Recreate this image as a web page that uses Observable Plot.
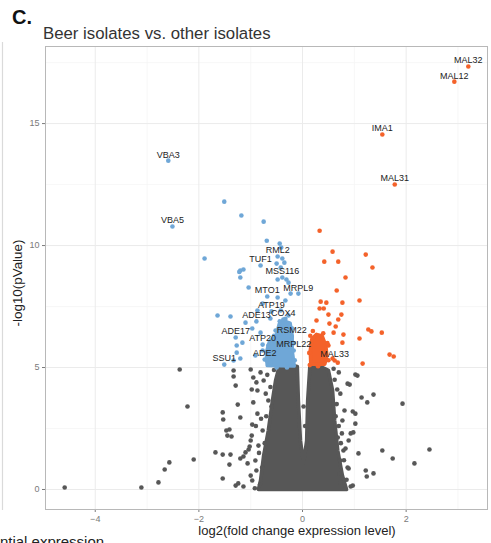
<!DOCTYPE html>
<html><head><meta charset="utf-8">
<script src="https://cdn.jsdelivr.net/npm/d3@7"></script>
<script src="https://cdn.jsdelivr.net/npm/@observablehq/plot@0.6"></script>
<style>
body{margin:0;background:#fff;}
#chart{width:491px;height:543px;overflow:hidden;}
</style></head><body>
<div id="chart"></div>
<script>
const xTicks = [-4, -2, 0, 2];
const yTicks = [0, 5, 10, 15];
const xMinor = [-3, -1, 1, 3];
const yMinor = [2.5, 7.5, 12.5, 17.5];

// dense non-significant core (outline)
const greyCore = [[-0.85,0],[-0.81,0.37],[-0.75,1.39],[-0.66,2.42],[-0.58,3.65],[-0.52,4.47],[-0.46,4.96],[-0.27,5.12],[-0.10,5.04],[-0.08,3.65],[-0.04,2.0],[0.02,1.1],[0.08,2.0],[0.10,3.65],[0.14,5.0],[0.31,5.08],[0.50,4.88],[0.58,4.06],[0.62,2.83],[0.68,1.6],[0.77,0.57],[0.85,0]];
const blueCore = [[-0.68,5.08],[-0.70,5.60],[-0.64,6.05],[-0.50,6.35],[-0.45,6.78],[-0.37,6.92],[-0.24,6.82],[-0.20,6.31],[-0.20,5.70],[-0.16,5.06]];
const redCore = [[0.16,5.14],[0.15,5.70],[0.18,6.17],[0.27,6.36],[0.38,6.29],[0.45,5.90],[0.47,5.49],[0.43,5.14]];

const greyPts = [[-4.59,0.08],[-3.11,0.08],[-2.78,0.29],[-2.66,0.82],[-2.57,1.11],[-2.10,1.23],[-2.37,4.92],[-2.22,3.40],
[-1.68,1.52],[-1.54,1.43],[-1.39,1.43],[-1.54,0.45],[-1.41,1.02],[-1.45,2.21],[-1.41,2.46],[-1.33,4.88],[-1.33,4.63],[-1.29,4.26],[-1.25,3.48],[-1.54,3.16],[-1.53,2.87],[-1.47,2.42],[-1.37,2.17],[-1.20,2.95],[-1.29,0.16],[-1.24,0.25],[-1.14,0.12],[-1.20,1.27],[-1.10,1.52],[-1.04,1.64],[-1.00,2.01],[-0.98,4.10],[-0.97,2.66],[-0.98,2.21],[-1.02,1.76],[-1.14,1.35],[-1.06,1.07],[-1.00,0.57],[-0.95,3.57],[-1.00,4.92],[-0.95,4.59],[-0.89,4.39],[-0.81,4.80],[-0.87,4.06],[-0.75,4.47],[-0.71,3.93],[-0.87,3.11],
[-0.66,3.65],[-0.70,3.0],[-0.77,2.42],[-0.85,1.80],[-0.91,1.19],[-0.89,0.78],[-0.97,0.37],[-0.92,0.05],[-0.80,2.9],[-0.62,4.2],[-0.55,4.9],[-0.90,2.6],[-0.84,1.5],[-0.78,0.9],[-0.68,4.7],[-0.60,3.4],[-0.73,1.9],[-0.82,0.2],
[0.93,0.12],[0.89,0.86],[1.08,1.48],[1.22,0.78],[1.24,0.53],[1.37,0.66],[1.54,1.60],[1.74,1.27],[2.16,1.07],[2.45,1.64],[0.83,1.68],[0.71,0.66],[0.73,0.29],[1.02,4.71],[0.91,4.30],[1.14,3.77],[1.37,3.89],[1.25,3.57],[1.93,3.52],[1.02,2.70],[0.98,2.34],[0.97,3.20],[1.02,3.11],[0.89,2.01],[0.87,4.34],[1.06,4.67],[0.93,2.30],[0.79,1.60],[0.87,0.90],[0.97,0.16],[0.73,3.93],[0.68,2.13],[0.81,3.24],[0.70,4.80],[0.77,2.83],[0.73,1.19],
[0.66,3.5],[0.70,2.6],[0.74,1.9],[0.80,1.2],[0.85,0.4],[0.62,4.5],[0.64,3.0],[0.60,4.95],[0.67,4.1],[0.76,2.3],[0.02,3.4],[0.05,2.6]];

const bluePts = [[-1.51,11.80],[-1.18,11.23],[-1.89,9.47],[-1.20,8.98],[-1.14,9.02],[-0.75,10.98],[-0.69,10.20],[-0.44,10.08],[-0.41,9.92],[-0.39,9.47],[-0.50,9.26],[-0.42,9.10],[-0.35,9.30],[-1.22,8.92],[-1.20,8.69],[-0.48,8.61],[-0.31,8.61],[-0.27,8.48],[-1.04,8.28],[-0.48,7.87],[-0.23,8.03],[-0.33,7.75],[-1.64,7.13],[-1.39,7.09],[-0.87,7.34],[-0.77,7.62],[-0.62,7.01],[-0.42,7.34],[-0.27,7.13],[-1.10,6.84],[-0.97,6.60],[-0.81,6.43],[-1.27,5.90],[-1.16,6.02],[-1.27,5.61],[-1.20,5.37],[-1.33,5.29],[-0.91,5.49],[-0.77,5.70],[-0.66,5.90],[-0.69,5.29],[-0.58,6.11],[-0.52,6.52],[-0.58,5.45],
[-0.62,5.2],[-0.64,5.7],[-0.55,6.3],[-0.44,6.9],[-0.33,7.0],[-0.20,6.6],[-0.17,6.0],[-0.15,5.3],[-0.50,5.0],[-0.30,5.0]];

const redPts = [[0.33,10.61],[0.58,9.75],[0.42,9.34],[0.69,9.34],[1.22,9.63],[0.83,8.69],[1.35,9.10],[0.66,8.16],[1.10,7.75],[0.35,7.70],[0.46,7.66],[0.77,7.66],[0.33,7.42],[0.41,7.42],[0.50,7.17],[0.75,7.17],[0.27,6.93],[0.69,6.97],[0.52,6.80],[0.64,6.68],[1.27,6.56],[1.33,6.48],[1.53,6.43],[0.60,6.43],[0.79,6.35],[1.10,6.19],[0.77,6.02],[0.50,5.90],[1.68,5.53],[1.76,5.45],[1.16,5.16],[0.68,5.20],[0.58,5.37],[0.45,5.5],
[0.15,6.3],[0.13,5.6],[0.20,6.5],[0.40,6.4],[0.48,6.0],[0.50,5.3],[0.14,5.1],[0.30,5.05]];

const blueGenes = [["VBA3",-2.59,13.48],["VBA5",-2.51,10.78],["RML2",-0.48,9.55],["TUF1",-0.81,9.18],["MSS116",-0.39,8.69],["MRPL9",-0.08,8.03],["MTO1",-0.68,7.91],["ATP19",-0.60,7.30],["ADE13",-0.89,6.89],["COX4",-0.37,6.97],["ADE17",-1.29,6.23],["ATP20",-0.77,5.94],["RSM22",-0.21,6.27],["MRPL22",-0.17,5.70],["ADE2",-0.73,5.33],["SSU1",-1.51,5.12]];
const redGenes = [["MAL32",3.20,17.34],["MAL12",2.93,16.72],["IMA1",1.54,14.55],["MAL31",1.78,12.50],["MAL33",0.62,5.29]];

const GREY = "#575757", BLUE = "#6fa7d7", RED = "#f4622a";
const FONT = '"Liberation Sans", Arial, Helvetica, sans-serif';

const core = (data, c) => Plot.line(data, {x: d => d[0], y: d => d[1], curve: "linear-closed", fill: c, stroke: c, strokeWidth: 3.6, strokeLinejoin: "round"});
const dots = (data, c) => Plot.dot(data, {x: d => d[0], y: d => d[1], r: 2.3, fill: c});
const genesDots = (data, c) => Plot.dot(data, {x: d => d[1], y: d => d[2], r: 2.3, fill: c});
const genesText = data => Plot.text(data, {x: d => d[1], y: d => d[2], text: d => d[0], dy: -6, fontSize: 9, fill: "#222"});

const svg = Plot.plot({
  width: 491, height: 543,
  marginLeft: 45, marginRight: 4, marginTop: 46, marginBottom: 34,
  style: {fontFamily: FONT, background: "white", overflow: "visible"},
  x: {domain: [-4.96, 3.57]},
  y: {domain: [-0.82, 18.16]},
  marks: [
    Plot.ruleX(xMinor, {stroke: "#f4f4f4", strokeWidth: 0.7}),
    Plot.ruleY(yMinor, {stroke: "#f4f4f4", strokeWidth: 0.7}),
    Plot.ruleX(xTicks, {stroke: "#ebebeb", strokeWidth: 1}),
    Plot.ruleY(yTicks, {stroke: "#ebebeb", strokeWidth: 1}),
    Plot.axisX({ticks: xTicks, tickSize: 3, tickPadding: 3, fontSize: 9, color: "#7a7a7a", label: null}),
    Plot.axisY({ticks: yTicks, tickSize: 3, tickPadding: 3, fontSize: 9, color: "#7a7a7a", label: null}),
    core(greyCore, GREY),
    dots(greyPts, GREY),
    core(blueCore, BLUE),
    dots(bluePts, BLUE),
    genesDots(blueGenes, BLUE),
    core(redCore, RED),
    dots(redPts, RED),
    genesDots(redGenes, RED),
    genesText(blueGenes),
    genesText(redGenes),
    Plot.frame({stroke: "#b8b8b8"})
  ]
});
document.getElementById("chart").appendChild(svg);

const s = d3.select(svg);
s.append("line").attr("x1", 2.5).attr("x2", 2.5).attr("y1", 42).attr("y2", 510).attr("stroke", "#dadada").attr("stroke-width", 1.2);
s.append("text").text("C.").attr("x", 12).attr("y", 24).attr("text-anchor", "start").attr("font-size", 20).attr("font-weight", "bold").attr("fill", "#111").attr("font-family", FONT);
s.append("text").text("Beer isolates vs. other isolates").attr("x", 43).attr("y", 39).attr("text-anchor", "start").attr("font-size", 16.8).attr("fill", "#333").attr("font-family", FONT);
s.append("text").text("log2(fold change expression level)").attr("x", 297).attr("y", 535).attr("text-anchor", "middle").attr("font-size", 13).attr("fill", "#222").attr("font-family", FONT);
s.append("text").text("-log10(pValue)").attr("transform", "translate(22,283) rotate(-90)").attr("text-anchor", "middle").attr("font-size", 13.4).attr("fill", "#222").attr("font-family", FONT);
s.append("text").text("Differential expression").attr("x", -44).attr("y", 547).attr("text-anchor", "start").attr("font-size", 15).attr("fill", "#222").attr("font-family", FONT);
</script>
</body></html>
